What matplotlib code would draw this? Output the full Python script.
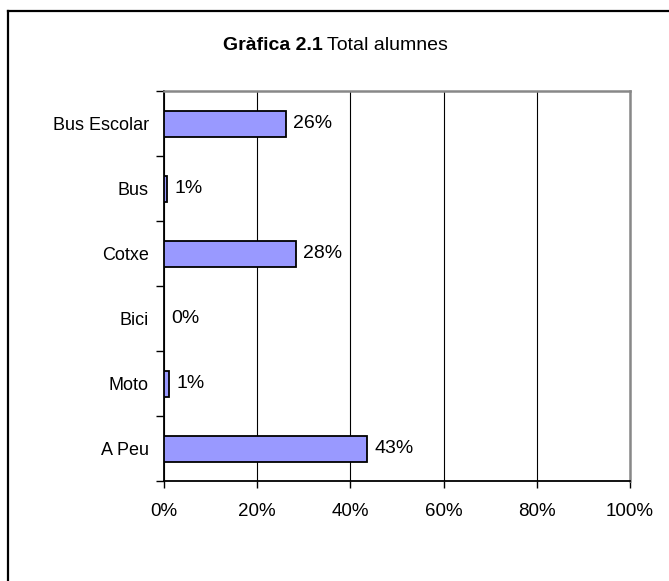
import matplotlib.pyplot as plt
import numpy as np
from matplotlib.lines import Line2D

# data
categories = ['Bus Escolar', 'Bus', 'Cotxe', 'Bici', 'Moto', 'A Peu']
values     = [26.2, 0.7, 28.3, 0.0, 1.1, 43.6]
labels     = ['26%', '1%', '28%', '0%', '1%', '43%']
xticks     = [0, 20, 40, 60, 80, 100]

plt.rcParams['font.family'] = ['Liberation Sans', 'DejaVu Sans']

fig = plt.figure(figsize=(6.69, 5.81), dpi=100)
ax = fig.add_axes([164/669, 1-481/581, (630-164)/669, (481-91)/581])

n = len(categories)
ypos = np.arange(n)
ax.barh(ypos, values, height=0.4, color='#9999ff', edgecolor='black',
        linewidth=1.3, zorder=3)
for y, v, lab in zip(ypos, values, labels):
    ax.text(v + 1.5, y, lab, va='center', ha='left', fontsize=14, zorder=4)

ax.set_xlim(0, 100)
ax.set_ylim(n - 0.5, -0.5)

# x axis
ax.set_xticks(xticks)
ax.set_xticklabels(['%d%%' % t for t in xticks], fontsize=13.5)
ax.tick_params(axis='x', direction='out', length=5, width=1, pad=11)
ax.grid(axis='x', color='black', linewidth=0.8, zorder=0)

# y axis: ticks between categories, labels at centres
ax.set_yticks(np.arange(-0.5, n + 0.5, 1.0))
ax.set_yticklabels([])
ax.set_yticks(ypos, minor=True)
ax.set_yticklabels(categories, minor=True, fontsize=13)
ax.tick_params(axis='y', which='major', direction='out', length=6, width=1)
ax.tick_params(axis='y', which='minor', length=0, pad=11)

for s in ['left', 'bottom']:
    ax.spines[s].set_color('black')
    ax.spines[s].set_linewidth(1.3)
for s in ['top', 'right']:
    ax.spines[s].set_color('#888888')
    ax.spines[s].set_linewidth(1.8)

# title: bold part + regular part
fig.text(323/669, 1 - 45/581, 'Gràfica 2.1', ha='right', va='center',
         fontsize=14, fontweight='bold')
fig.text(327/669, 1 - 45/581, 'Total alumnes', ha='left', va='center',
         fontsize=14)

# outer chart frame (cut on right and bottom)
fy = 1 - 11/581
fx = 8/669
fig.add_artist(Line2D([fx, fx], [0, fy], color='black', linewidth=1.6,
                      transform=fig.transFigure))
fig.add_artist(Line2D([fx, 1], [fy, fy], color='black', linewidth=1.6,
                      transform=fig.transFigure))

fig.savefig('out.png', dpi=100)
